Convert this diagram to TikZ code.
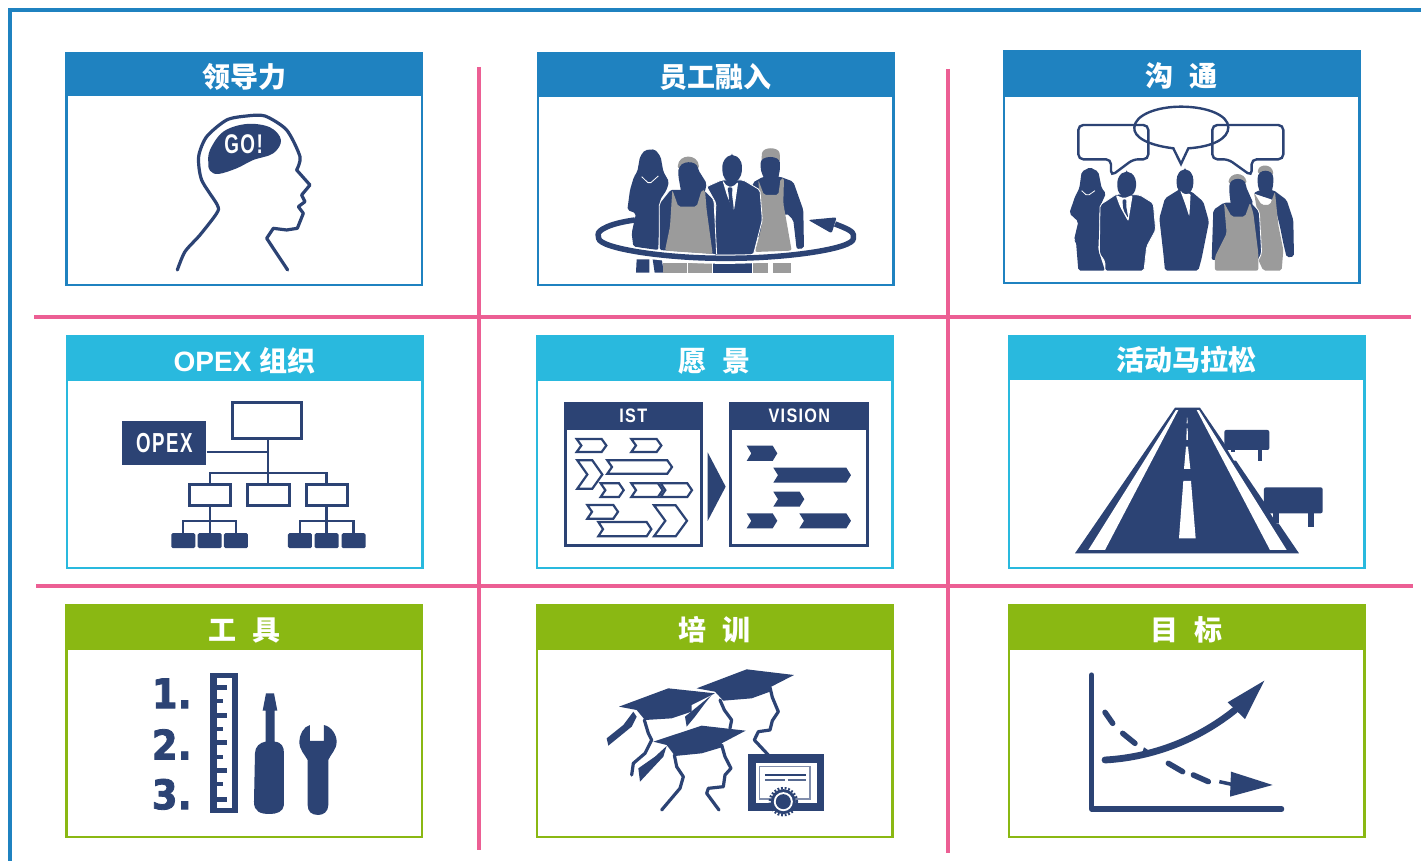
\documentclass[tikz,border=0pt]{standalone}
\usepackage{fontspec}
\setmainfont{Liberation Sans}
\newfontfamily\cjk{Noto Sans CJK SC}
\newfontfamily\latin{Liberation Sans}
\newfontfamily\signfont{Liberation Sans}[LetterSpace=8]
\newfontfamily\numfont{DejaVu Sans}[BoldFeatures={FakeBold=2}]
\usetikzlibrary{positioning}

\definecolor{headblue}{HTML}{1F82C0}
\definecolor{headcyan}{HTML}{29B9DE}
\definecolor{headgreen}{HTML}{8AB813}
\definecolor{navy}{HTML}{2C4374}
\definecolor{sep}{HTML}{EC5F94}
\definecolor{apron}{HTML}{9B9B9B}

\tikzset{
  panelbox/.style={draw=#1,line width=2.5pt,fill=white,minimum width=355.5,minimum height=230.5,inner sep=0},
  panelhead/.style={fill=#1,text=white,font=\cjk\bfseries\fontsize{28}{30}\selectfont,anchor=north,minimum width=358,inner sep=0,outer sep=0,text height=27pt,text depth=0pt},
  seprule/.style={draw=sep,line width=4.5pt},
  zoomed/.style 2 args={shift={(#1,#2)},x=.3333pt,y=-.3333pt},
  orgbox/.style={draw=navy,line width=3pt,fill=white,inner sep=0},
  orgleaf/.style={fill=navy,rounded corners=1.5pt,minimum width=24,minimum height=15,inner sep=0},
  orgline/.style={draw=navy,line width=2.3pt},
  cutout/.style={draw=white,line width=.8pt,fill=navy},
  seam/.style={draw=white,line width=.8pt},
  overall/.style={fill=apron},
  legpart/.style={sharp corners},
  bubble/.style={draw=navy,line width=2.4pt,rounded corners=5pt},
  chevopen/.style={draw=navy,line width=2.2pt,fill=white,rounded corners=0pt},
  chevfull/.style={fill=navy},
  profile/.style={draw=navy,line width=3.2pt,line join=round,line cap=round},
  label/.style={text=white,inner sep=0},
  numeral/.style={text=navy,font=\numfont\bfseries\fontsize{37}{37}\selectfont,inner sep=0,anchor=west}
}

% one arrow block: style, left, top, right, bottom, notch
\newcommand\chevblock[6]{\path[#1] (#2,#3) -- (#4-#6,#3) -- (#4,{(#3+#5)/2}) -- (#4-#6,#5) -- (#2,#5) -- (#2+#6,{(#3+#5)/2}) -- cycle;}

\begin{document}
\begin{tikzpicture}[x=1pt,y=-1pt]
  \useasboundingbox (0,0) rectangle (1421,861);

  % outer line and separators
  \coordinate (edgeA) at (1421,10);
  \coordinate (edgeB) at (10,10);
  \coordinate (edgeC) at (10,861);
  \draw[draw=headblue,line width=3.5pt] (edgeA) -- (edgeB) -- (edgeC);
  \coordinate (vA) at (479,67);   \coordinate (vB) at (479,850);
  \coordinate (vC) at (948,69);   \coordinate (vD) at (948,853);
  \coordinate (hA) at (34,317);   \coordinate (hB) at (1411,317);
  \coordinate (hC) at (36,586);   \coordinate (hD) at (1413,586);
  \draw[seprule] (vA) -- (vB);
  \draw[seprule] (vC) -- (vD);
  \draw[seprule] (hA) -- (hB);
  \draw[seprule] (hC) -- (hD);

  % panels
  \node[panelbox=headblue]  (lead)   at (244.2,169.5) {};
  \node[panelbox=headblue]  (staff)  at (715.5,169.5) {};
  \node[panelbox=headblue]  (talk)   at (1181.7,167.5) {};
  \node[panelbox=headcyan]  (opexp)  at (244.5,452.5) {};
  \node[panelbox=headcyan]  (vis)    at (714.5,452.5) {};
  \node[panelbox=headcyan]  (race)   at (1186.5,452.5) {};
  \node[panelbox=headgreen] (tool)   at (244.2,721.5) {};
  \node[panelbox=headgreen] (train)  at (714.5,721.5) {};
  \node[panelbox=headgreen] (goal)   at (1186.5,721.5) {};

  \node[panelhead=headblue,minimum height=43.5]  (leadh)  at ([yshift=.8pt]lead.north)  {领导力};
  \node[panelhead=headblue,minimum height=44.5]  (staffh) at ([yshift=.8pt]staff.north) {员工融入};
  \node[panelhead=headblue,minimum height=46.5]  (talkh)  at ([yshift=.8pt]talk.north)  {沟\hspace{16pt}通};
  \node[panelhead=headcyan,minimum height=45.5]  (opexh)  at ([yshift=.8pt]opexp.north) {{\latin\bfseries OPEX }组织};
  \node[panelhead=headcyan,minimum height=45.5]  (vish)   at ([yshift=.8pt]vis.north)   {愿\hspace{16pt}景};
  \node[panelhead=headcyan,minimum height=44.5]  (raceh)  at ([yshift=.8pt]race.north)  {活动马拉松};
  \node[panelhead=headgreen,minimum height=45.5] (toolh)  at ([yshift=.8pt]tool.north)  {工\hspace{16pt}具};
  \node[panelhead=headgreen,minimum height=45.5] (trainh) at ([yshift=.8pt]train.north) {培\hspace{16pt}训};
  \node[panelhead=headgreen,minimum height=45.5] (goalh)  at ([yshift=.8pt]goal.north)  {目\hspace{16pt}标};

  % head
  \begin{scope}[zoomed={60}{40}]
    \draw[profile] plot[smooth,tension=.45] coordinates {(352,690) (375,635) (420,585) (470,520) (472,495) (425,420) (416,350) (440,290) (500,240) (560,228) (615,228) (680,270) (720,350) (710,390)};
    \draw[profile] (710,390) -- (750,435) -- (725,465) -- (735,485) -- (715,500) -- (730,520) -- (712,565) -- (680,570) -- (640,565) -- (620,595) -- (683,690);
    \fill[navy] plot[smooth cycle,tension=.6] coordinates {(445,370) (450,330) (490,275) (560,252) (630,262) (663,300) (640,340) (580,360) (530,385) (475,402) (450,392)};
    \node[label,font=\signfont\bfseries\fontsize{27}{27}\selectfont] (go) at (551,312) {\scalebox{.7}[1]{GO!}};
  \end{scope}

  % team with ring
  \begin{scope}[zoomed={530}{40},rounded corners=2pt]
    \fill[navy] (345,330) -- (375,328) -- (392,350) -- (400,395) -- (417,425) -- (410,450) -- (390,480) -- (385,630) -- (310,620) -- (305,580) -- (318,520) -- (292,510) -- (300,450) -- (312,410) -- (322,395) -- (330,350) -- cycle;
    \draw[white,line width=.8pt] (335,410) -- (358,432) -- (385,408);
    \fill[navy,legpart] (320,658) -- (358,658) -- (358,698) -- (318,698) -- cycle;
    \fill[navy,legpart] (368,658) -- (395,658) -- (402,698) -- (374,698) -- cycle;
    % right worker
    \fill[apron] (695,345) .. controls (700,320) and (745,320) .. (750,345) -- (750,365) -- (695,365) -- cycle;
    \fill[navy] (692,375) .. controls (692,345) and (750,345) .. (750,375) .. controls (750,395) and (745,410) .. (745,420) -- (705,420) .. controls (700,410) and (692,395) .. (692,375) -- cycle;
    \fill[navy] (668,428) -- (700,410) -- (750,410) -- (790,425) -- (820,510) -- (822,625) -- (800,627) -- (790,540) -- (770,520) -- (675,600) -- cycle;
    \path[overall] (685,420) -- (702,465) -- (745,465) -- (752,415) -- (762,415) -- (760,490) -- (785,632) -- (675,636) -- (695,560) -- cycle;
    \fill[apron,legpart] (668,670) -- (715,670) -- (715,698) -- (668,698) -- cycle;
    \fill[apron,legpart] (730,670) -- (783,670) -- (783,698) -- (730,698) -- cycle;
    % man
    \path[cutout] (530,440) -- (575,420) -- (640,420) -- (690,450) -- (697,540) -- (670,645) -- (550,645) -- (558,490) -- cycle;
    \fill[navy] (606,347) .. controls (625,347) and (636,365) .. (636,385) .. controls (636,410) and (620,428) .. (606,428) .. controls (590,428) and (577,410) .. (577,385) .. controls (577,365) and (590,347) .. (606,347) -- cycle;
    \fill[white] (577,420) -- (592,440) -- (610,440) -- (625,425) -- (612,512) -- (592,470) -- cycle;
    \fill[navy] (592,442) -- (608,442) -- (606,462) -- (612,512) -- (598,488) -- (596,462) -- cycle;
    \fill[navy,legpart] (548,670) -- (665,670) -- (665,698) -- (548,698) -- cycle;
    % left worker
    \fill[apron] (443,385) .. controls (445,340) and (505,340) .. (507,385) -- cycle;
    \fill[navy] (388,630) -- (388,490) -- (420,450) -- (520,450) -- (552,480) -- (560,642) -- cycle;
    \draw[seam] (388,630) -- (388,490) -- (420,450);
    \draw[seam] (525,447) -- (552,480) -- (560,642);
    \fill[navy] (445,395) .. controls (450,360) and (500,360) .. (505,390) -- (530,430) -- (525,455) -- (495,500) -- (460,500) .. controls (450,430) and (445,415) .. (445,395) -- cycle;
    \path[overall] (427,450) -- (445,500) -- (500,500) -- (515,450) -- (525,450) -- (530,510) -- (548,642) -- (405,632) -- (420,560) -- cycle;
    \fill[apron,legpart] (400,670) -- (472,670) -- (472,698) -- (400,698) -- cycle;
    \fill[apron,legpart] (475,670) -- (547,670) -- (547,698) -- (475,698) -- cycle;
    % ring
    \draw[white,line width=9pt] (225,607) .. controls (300,640) and (430,658) .. (587,658) .. controls (760,658) and (900,630) .. (955,605);
    \draw[navy,line width=5.5pt] (315,540) .. controls (240,550) and (203,570) .. (205,590) .. controls (212,625) and (400,655) .. (587,655) .. controls (780,655) and (970,625) .. (970,590) .. controls (970,575) and (950,565) .. (915,552);
    \fill[navy] (835,540) -- (920,532) -- (905,580) -- cycle;
  \end{scope}

  % talk
  \begin{scope}[zoomed={1000}{40},rounded corners=2pt]
    \draw[bubble] (333,358) -- (333,408) -- (400,358) -- (445,358) -- (445,255) -- (235,255) -- (235,358) -- cycle;
    \draw[bubble] (755,358) -- (755,408) -- (685,358) -- (637,358) -- (637,255) -- (850,255) -- (850,358) -- cycle;
    \draw[draw=navy,line width=2.4pt,sharp corners] (520,325) .. controls (440,315) and (400,290) .. (403,262) .. controls (405,225) and (470,200) .. (543,200) .. controls (620,200) and (685,225) .. (685,262) .. controls (685,295) and (640,320) .. (565,325) -- (543,372) -- cycle;
    % woman
    \fill[navy] (245,395) -- (270,382) -- (295,395) -- (305,445) -- (318,460) -- (300,500) -- (295,630) -- (315,692) -- (235,692) -- (228,605) -- (222,600) -- (235,545) -- (208,520) -- (225,470) -- (238,445) -- cycle;
    \draw[white,line width=.8pt] (245,452) -- (262,468) -- (285,452);
    % man one
    \path[cutout] (298,640) -- (300,495) -- (350,462) -- (420,465) -- (460,490) -- (467,570) -- (440,620) -- (432,693) -- (315,693) -- (315,665) -- cycle;
    \fill[navy] (380,397) .. controls (398,397) and (408,415) .. (408,433) .. controls (408,455) and (395,470) .. (380,470) .. controls (362,470) and (352,455) .. (352,433) .. controls (352,415) and (362,397) .. (380,397) -- cycle;
    \fill[white] (347,465) -- (372,475) -- (398,465) -- (385,545) -- (360,500) -- cycle;
    \fill[navy] (367,478) -- (380,478) -- (378,495) -- (385,535) -- (370,510) -- cycle;
    % man two
    \fill[navy] (478,535) -- (495,475) -- (540,447) -- (575,455) -- (610,485) -- (627,545) -- (605,655) -- (595,692) -- (495,692) -- (490,640) -- cycle;
    \fill[navy] (555,390) .. controls (570,390) and (580,405) .. (580,425) .. controls (580,445) and (570,462) .. (555,462) .. controls (540,462) and (530,445) .. (530,425) .. controls (530,405) and (540,390) .. (555,390) -- cycle;
    \fill[white] (540,450) -- (552,464) -- (572,460) -- (568,530) -- (555,490) -- cycle;
    % back worker
    \fill[apron] (773,400) .. controls (775,370) and (818,370) .. (820,405) -- cycle;
    \fill[navy] (773,420) .. controls (773,385) and (820,385) .. (820,420) .. controls (820,440) and (815,455) .. (810,470) -- (785,470) .. controls (778,450) and (773,440) .. (773,420) -- cycle;
    \fill[navy] (760,460) -- (780,450) -- (820,450) -- (860,480) -- (880,540) -- (882,650) -- (860,652) -- (850,610) -- (840,560) -- (820,480) -- cycle;
    \path[overall] (762,458) -- (785,495) -- (810,495) -- (825,455) -- (835,555) -- (850,630) -- (845,692) -- (790,692) -- (775,660) -- (780,560) -- cycle;
    % front worker
    \fill[apron] (685,430) .. controls (690,395) and (735,395) .. (740,430) -- cycle;
    \fill[navy] (635,660) -- (640,510) -- (672,488) -- (752,488) -- (778,515) -- (785,640) -- (775,660) -- cycle;
    \draw[seam] (755,485) -- (778,515) -- (785,640) -- (775,660);
    \fill[navy] (688,445) .. controls (688,410) and (735,410) .. (738,440) -- (760,490) -- (735,530) -- (695,530) .. controls (692,480) and (688,465) .. (688,445) -- cycle;
    \path[overall] (672,488) -- (695,530) -- (735,530) -- (750,488) -- (760,520) -- (775,640) -- (775,692) -- (645,692) -- (645,650) -- (680,580) -- cycle;
  \end{scope}

  % organisation chart
  \begin{scope}[zoomed={100}{390}]
    \node[orgbox,minimum width=69,minimum height=36] (top) at (502,92) {};
    \node[fill=navy,minimum width=84,minimum height=44,inner sep=0] (opex) at (193,159) {};
    \node[label,font=\signfont\bfseries\fontsize{27.5}{27}\selectfont] (opext) at (193,159) {\scalebox{.68}[1]{OPEX}};
    \node[orgbox,minimum width=41,minimum height=21] (mid1) at (329,315) {};
    \node[orgbox,minimum width=42,minimum height=21] (mid2) at (505,315) {};
    \node[orgbox,minimum width=41,minimum height=21] (mid3) at (680,315) {};
    \node[orgleaf] (leaf1) at (250,452) {};
    \node[orgleaf] (leaf2) at (329,452) {};
    \node[orgleaf] (leaf3) at (408,452) {};
    \node[orgleaf] (leaf4) at (600,452) {};
    \node[orgleaf] (leaf5) at (680,452) {};
    \node[orgleaf] (leaf6) at (761,452) {};
    \coordinate (joinA) at (505,185);
    \coordinate (busA) at (505,248);
    \coordinate (busB) at (329,392);
    \coordinate (busC) at (680,392);
    \draw[orgline] (top.south -| mid2) -- (mid2.north);
    \draw[orgline] (joinA -| opex.east) -- (joinA);
    \draw[orgline] (mid1.north) |- (busA) -| (mid3.north);
    \draw[orgline] (mid1.south) -- (leaf2.north);
    \draw[orgline] (leaf1.north) |- (busB) -| (leaf3.north);
    \draw[orgline] (mid3.south) -- (leaf5.north);
    \draw[orgline] (leaf4.north) |- (busC) -| (leaf6.north);
  \end{scope}

  % current and target state
  \begin{scope}[zoomed={555}{395}]
    \draw[draw=navy,line width=3pt,fill=white] (32.5,24.5) rectangle (440.5,450.5);
    \fill[navy] (28,20) rectangle (445,105);
    \node[label,font=\signfont\bfseries\fontsize{19.5}{20}\selectfont] (ist) at (235,62) {\scalebox{.83}[1]{IST}};
    \draw[draw=navy,line width=3pt,fill=white] (526.5,24.5) rectangle (938.5,450.5);
    \fill[navy] (522,20) rectangle (943,105);
    \node[label,font=\signfont\bfseries\fontsize{19.5}{20}\selectfont] (vision) at (733,62) {\scalebox{.83}[1]{VISION}};
    \fill[navy] (458,172) -- (512,275) -- (458,378) -- cycle;
    \chevblock{chevopen}{65}{132}{154}{171}{14}
    \chevblock{chevopen}{229}{132}{319}{171}{14}
    \chevblock{chevopen}{67}{196}{142}{281}{30}
    \chevblock{chevopen}{157}{196}{351}{236}{14}
    \chevblock{chevopen}{137}{265}{206}{306}{14}
    \chevblock{chevopen}{229}{265}{323}{306}{14}
    \chevblock{chevopen}{317}{265}{411}{306}{14}
    \chevblock{chevopen}{97}{330}{189}{371}{14}
    \chevblock{chevopen}{130}{381}{289}{424}{14}
    \chevblock{chevopen}{297}{331}{396}{424}{34}
    \chevblock{chevfull}{575}{152}{667}{198}{14}
    \chevblock{chevfull}{655}{218}{888}{263}{14}
    \chevblock{chevfull}{655}{290}{748}{335}{14}
    \chevblock{chevfull}{575}{355}{667}{400}{14}
    \chevblock{chevfull}{733}{355}{888}{400}{14}
  \end{scope}

  % road
  \begin{scope}[zoomed={1060}{395}]
    \fill[navy] (45,475) -- (345,38) -- (420,38) -- (717,475) -- cycle;
    \fill[white] (85,465) -- (135,465) -- (355,45) -- (348,45) -- cycle;
    \fill[white] (630,465) -- (680,465) -- (417,45) -- (410,45) -- cycle;
    \fill[white] (357,430) -- (407,430) -- (393,258) -- (370,258) -- cycle;
    \fill[white] (372,222) -- (391,222) -- (384,155) -- (378,155) -- cycle;
    \fill[white] (379,135) -- (384,135) -- (383,100) -- (380,100) -- cycle;
    \fill[white] (380,85) -- (383,85) -- (382,68) -- (381,68) -- cycle;
    \fill[white] (500,160) -- (522,197) -- (540,197) -- (518,160) -- cycle;
    \fill[white] (625,345) -- (650,385) -- (675,385) -- (650,345) -- cycle;
    \fill[navy] (512,160) rectangle (525,172);
    \fill[navy] (595,160) rectangle (607,197);
    \fill[navy,rounded corners=2pt] (493,105) rectangle (628,165);
    \fill[navy] (640,350) rectangle (657,385);
    \fill[navy] (745,350) rectangle (762,395);
    \fill[navy,rounded corners=2pt] (612,277) rectangle (788,355);
  \end{scope}

  % list, ruler and tools
  \begin{scope}[zoomed={140}{665}]
    \node[numeral] (one)   at (35,85)  {\scalebox{1}[1.1]{1.}};
    \node[numeral] (two)   at (35,238) {\scalebox{1}[1.1]{2.}};
    \node[numeral] (three) at (35,388) {\scalebox{1}[1.1]{3.}};
    \fill[navy] (210,25) rectangle (295,443);
    \fill[white] (230,40) rectangle (275,430);
    \foreach \y in {67,150,233,318,404} \draw[navy,line width=5pt] (220,\y) -- (261,\y);
    \foreach \y in {108,192,277,358} \draw[navy,line width=4pt] (220,\y) -- (248,\y);
    \fill[navy] (378,85) -- (402,85) -- (412,137) -- (404,137) -- (404,230) .. controls (425,232) and (432,245) .. (432,265) -- (432,420) .. controls (430,440) and (410,447) .. (390,447) .. controls (360,447) and (342,440) .. (342,410) -- (345,265) .. controls (345,245) and (360,232) .. (377,230) -- (377,137) -- (368,137) -- cycle;
    \fill[navy] (510,180) -- (510,228) -- (552,228) -- (552,180) .. controls (575,185) and (590,210) .. (590,230) .. controls (590,255) and (570,270) .. (565,285) -- (565,420) .. controls (565,440) and (550,450) .. (535,450) .. controls (515,450) and (503,440) .. (503,420) -- (503,285) .. controls (495,270) and (478,255) .. (478,230) .. controls (478,210) and (490,185) .. (510,180) -- cycle;
  \end{scope}

  % graduates
  \begin{scope}[zoomed={595}{660}]
    \fill[navy] (305,85) -- (455,28) -- (597,45) -- (525,82) -- (525,95) -- (470,115) -- (385,122) -- (360,95) -- cycle;
    \draw[profile] (525,82) -- (532,112) -- (550,155) -- (532,182) -- (525,210) -- (490,215) -- (478,240) -- (520,285);
    \draw[profile] (375,120) -- (388,150) -- (410,180) -- (405,205);
    \fill[navy] (72,140) -- (220,85) -- (360,100) -- (290,135) -- (290,155) -- (230,175) -- (150,180) -- (125,150) -- cycle;
    \fill[navy] (115,155) -- (125,170) -- (110,200) -- (40,257) -- (35,235) -- (85,195) -- cycle;
    \fill[navy] (350,105) -- (270,170) -- (275,200) -- (300,170) -- (330,130) -- cycle;
    \draw[profile] (148,180) -- (160,220) -- (170,240) -- (150,280) -- (115,310) -- (110,345);
    \fill[navy] (175,245) -- (320,197) -- (452,212) -- (380,250) -- (380,262) -- (320,280) -- (240,288) -- (215,255) -- cycle;
    \fill[navy] (215,258) -- (205,290) -- (135,365) -- (130,325) -- (180,290) -- cycle;
    \draw[profile] (238,285) -- (245,320) -- (265,350) -- (255,385) -- (200,450);
    \draw[profile] (380,255) -- (390,290) -- (408,325) -- (390,345) -- (385,380) -- (340,385) -- (335,400) -- (372,450);
    \fill[navy] (460,283) rectangle (687,452);
    \fill[white] (482,308) rectangle (665,430);
    \draw[navy!60,line width=1.2pt] (494,320) rectangle (645,417);
    \draw[navy,line width=2pt] (510,346) -- (632,346);
    \draw[navy!80,line width=1.5pt] (510,360) -- (570,360);
    \draw[navy!80,line width=1.5pt] (578,360) -- (632,360);
    \fill[navy] (565,425) circle[radius=12.5pt];
    \draw[navy,line width=2.5pt,dash pattern=on 1.8pt off 1.8pt] (565,425) circle[radius=13.5pt];
    \fill[white] (565,425) circle[radius=9.5pt];
    \fill[navy] (565,425) circle[radius=7.5pt];
  \end{scope}

  % chart
  \begin{scope}[zoomed={1080}{665}]
    \draw[navy,line width=5.2pt,line cap=round,line join=round] (35,30) -- (35,432) -- (605,432);
    \foreach \ax/\ay/\bx/\by in {75/142/98/175,128/205/165/235,265/295/308/320,340/330/385/350}
      \draw[navy,line width=5.5pt,line cap=round] (\ax,\ay) -- (\bx,\by);
    \draw[navy,line width=3.5pt] (418,350) -- (455,358);
    \fill[navy] (453,320) -- (578,360) -- (450,395) -- cycle;
    \draw[navy,line width=6.8pt,line cap=round] (75,285) .. controls (200,278) and (340,235) .. (465,135);
    \fill[navy] (185,268) -- (192,247) -- (215,262) -- cycle;
    \fill[navy] (553,47) -- (443,112) -- (495,162) -- cycle;
  \end{scope}
\end{tikzpicture}
\end{document}
